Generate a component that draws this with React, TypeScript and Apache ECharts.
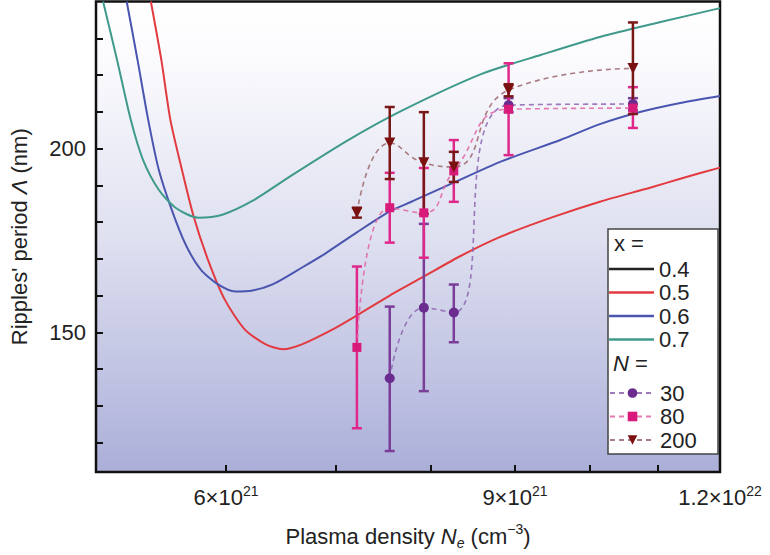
import React, { useEffect, useRef } from 'react';
import * as echarts from 'echarts';

// x in units of 10^21 cm^-3 (log axis), y in nm
const xLabelValues = [6, 9, 12];
const xLabelMantissa = ['6', '9', '1.2'];
const xLabelExponent = ['21', '21', '22'];
const xTickValues = [6, 7, 8, 9, 10, 11, 12];
const yLabelValues = [150, 200];
const yTickValues = [120, 130, 140, 150, 160, 170, 180, 190, 200, 210, 220, 230];

const curveNames = ['0.4', '0.5', '0.6', '0.7'];
const curveColors = ['#222222', '#e23a3f', '#4a55b0', '#3f9a8c'];
const curve04: number[][] = [];
const curve05 = [
  [5.4, 240], [5.48, 224.1], [5.55, 207.8], [5.64, 194.3], [5.73, 182.0], [5.85, 169.8],
  [5.99, 158.9], [6.16, 150.8], [6.34, 146.8], [6.5, 145.4], [6.68, 146.8], [6.97, 150.8],
  [7.21, 154.6], [7.55, 160.0], [7.92, 165.2], [8.35, 170.9], [8.83, 176.1], [9.47, 181.2],
  [10.15, 185.6], [10.89, 189.4], [11.35, 191.8], [12.0, 194.8],
];
const curve06 = [
  [5.22, 240], [5.3, 224.1], [5.38, 207.8], [5.46, 194.3], [5.56, 183.4], [5.67, 173.9],
  [5.79, 167.1], [5.93, 163.1], [6.08, 161.1], [6.23, 161.4], [6.41, 163.1], [6.68, 167.7],
  [6.9, 171.5], [7.21, 177.2], [7.55, 182.9], [7.79, 185.6], [8.24, 190.5], [8.83, 196.5],
  [9.6, 202.4], [10.15, 206.7], [10.74, 210.0], [11.35, 212.4], [12.0, 214.3],
];
const curve07 = [
  [5.05, 240], [5.15, 224.1], [5.25, 207.8], [5.34, 197.0], [5.46, 188.8], [5.59, 183.9],
  [5.77, 181.2], [5.97, 182.0], [6.23, 185.8], [6.59, 192.9], [7.11, 202.1], [7.68, 210.3],
  [8.59, 220.3], [9.34, 225.5], [10.15, 230.4], [11.04, 234.4], [12.0, 238.2],
];

const nNames = ['30', '80', '200'];
const n30X = [7.55, 7.92, 8.26, 8.92, 10.62];
const n30Y = [137.5, 156.7, 155.4, 211.8, 212.1];
const n30Lo = [117.7, 134.0, 147.3, 209.9, 210.4];
const n30Hi = [157.0, 179.5, 163.0, 213.7, 213.7];
const n80X = [7.21, 7.55, 7.92, 8.26, 8.92, 10.62];
const n80Y = [145.9, 183.9, 182.5, 193.9, 210.7, 211.0];
const n80Lo = [123.9, 174.4, 170.3, 185.5, 198.2, 205.6];
const n80Hi = [167.9, 193.4, 194.7, 202.3, 223.2, 216.7];
const n200X = [7.21, 7.55, 7.92, 8.26, 8.92, 10.62];
const n200Y = [182.5, 201.5, 196.1, 195.0, 215.9, 221.8];
const n200Lo = [181.2, 191.7, 182.2, 190.9, 214.2, 209.4];
const n200Hi = [183.9, 211.3, 209.9, 199.1, 217.5, 234.3];

const FONT = '"Liberation Sans", Arial, Helvetica, sans-serif';
const TXT = '#222222';

const zip = (xs: number[], ys: number[]) => xs.map((x, i) => [x, ys[i]]);

const errSeries = (name: string, xs: number[], lo: number[], hi: number[], color: string, z: number) => ({
  type: 'custom',
  name,
  z,
  silent: true,
  data: xs.map((x, i) => [x, lo[i], hi[i]]),
  encode: { x: 0, y: [1, 2] },
  renderItem: (params: any, api: any) => {
    const x = api.value(0);
    const a = api.coord([x, api.value(1)]);
    const b = api.coord([x, api.value(2)]);
    const w = 5;
    const st = { stroke: color, lineWidth: 2.5 };
    return {
      type: 'group',
      children: [
        { type: 'line', shape: { x1: a[0], y1: a[1], x2: b[0], y2: b[1] }, style: st },
        { type: 'line', shape: { x1: a[0] - w, y1: a[1], x2: a[0] + w, y2: a[1] }, style: st },
        { type: 'line', shape: { x1: b[0] - w, y1: b[1], x2: b[0] + w, y2: b[1] }, style: st },
      ],
    };
  },
});

const curveSeries = (name: string, data: number[][], color: string) => ({
  type: 'line',
  name,
  data,
  smooth: 0.25,
  symbol: 'none',
  z: 2,
  silent: true,
  lineStyle: { color, width: 2 },
  itemStyle: { color },
});

const nSeries = (name: string, data: number[][], color: string, lineColor: string, symbol: string, size: number) => ({
  type: 'line',
  name,
  data,
  smooth: 0.5,
  symbol,
  symbolSize: size,
  showSymbol: true,
  z: 5,
  silent: true,
  itemStyle: { color },
  lineStyle: { color: lineColor, width: 1.6, type: [5, 4] },
});

export default function App() {
  const ref = useRef<HTMLDivElement>(null);
  useEffect(() => {
    if (!ref.current) return;
    const chart = echarts.init(ref.current, null, { renderer: 'svg' });
    const labelStyle = { fontFamily: FONT, color: TXT };
    const option: any = {
      animation: false,
      textStyle: { fontFamily: FONT },
      grid: {
        left: 92, right: 50, top: 1.5, bottom: 82, show: true,
        borderColor: '#111', borderWidth: 2.5,
        backgroundColor: new echarts.graphic.LinearGradient(0, 0, 0, 1, [
          { offset: 0, color: '#ffffff' },
          { offset: 0.12, color: '#fbfbfe' },
          { offset: 0.5, color: '#dfe0f0' },
          { offset: 1, color: '#abafd9' },
        ]),
      },
      xAxis: {
        type: 'log', logBase: 10, min: 5, max: 12,
        axisLine: { show: false },
        splitLine: { show: false },
        axisTick: { inside: true, length: 7, customValues: xTickValues, lineStyle: { color: '#111', width: 2 } },
        axisLabel: {
          customValues: xLabelValues,
          margin: 12,
          ...labelStyle,
          formatter: (v: number) => {
            const i = xLabelValues.findIndex((u) => Math.abs(u - v) < 1e-6);
            if (i < 0) return '';
            return `{b|${xLabelMantissa[i]}×10}{s|${xLabelExponent[i]}}`;
          },
          rich: {
            b: { fontSize: 22, lineHeight: 26, fontFamily: FONT, color: TXT },
            s: { fontSize: 14, lineHeight: 14, verticalAlign: 'top', fontFamily: FONT, color: TXT },
          },
        },
        name: '{t|Plasma density }{i|N}{sub|e}{t| (cm}{sup|−3}{t|)}',
        nameLocation: 'middle',
        nameGap: 50,
        nameTextStyle: {
          rich: {
            t: { fontSize: 22, lineHeight: 28, fontFamily: FONT, color: TXT },
            i: { fontSize: 22, lineHeight: 28, fontStyle: 'italic', fontFamily: FONT, color: TXT },
            sub: { fontSize: 14, lineHeight: 14, verticalAlign: 'bottom', fontStyle: 'italic', fontFamily: FONT, color: TXT },
            sup: { fontSize: 14, lineHeight: 14, verticalAlign: 'top', fontFamily: FONT, color: TXT },
          },
        },
      },
      yAxis: {
        type: 'value', min: 112, max: 240,
        axisLine: { show: false },
        splitLine: { show: false },
        axisTick: { inside: true, length: 7, customValues: yTickValues, lineStyle: { color: '#111', width: 2 } },
        axisLabel: { customValues: yLabelValues, fontSize: 22, margin: 10, ...labelStyle },
        name: "{t|Ripples' period }{i|Λ}{t| (nm)}",
        nameLocation: 'middle',
        nameGap: 64,
        nameTextStyle: {
          rich: {
            t: { fontSize: 22, lineHeight: 26, fontFamily: FONT, color: TXT },
            i: { fontSize: 22, lineHeight: 26, fontStyle: 'italic', fontFamily: FONT, color: TXT },
          },
        },
      },
      legend: [
        {
          data: curveNames.map((n) => ({ name: n, icon: 'rect' })),
          orient: 'vertical', left: 609, top: 258, padding: 0,
          itemWidth: 45, itemHeight: 2.5, itemGap: 1.5, selectedMode: false, z: 20,
          textStyle: { fontSize: 22, lineHeight: 22, color: TXT, fontFamily: FONT },
        },
        {
          data: nNames, orient: 'vertical', left: 609, top: 382, padding: 0,
          itemWidth: 45, itemHeight: 12, itemGap: 1.5, selectedMode: false, z: 20,
          textStyle: { fontSize: 22, lineHeight: 22, color: TXT, fontFamily: FONT },
        },
      ],
      graphic: [
        {
          type: 'rect', z: 10, silent: true,
          shape: { x: 608, y: 229, width: 110, height: 225 },
          style: { fill: '#ffffff', stroke: '#444', lineWidth: 1.5 },
        },
        {
          type: 'text', z: 21, x: 614, y: 243, silent: true,
          style: { text: 'x =', fontSize: 22, fill: TXT, fontFamily: FONT, verticalAlign: 'middle' },
        },
        {
          type: 'text', z: 21, x: 613, y: 363, silent: true,
          style: {
            text: '{i|N}{t| =}', verticalAlign: 'middle',
            rich: {
              i: { fontSize: 22, fontStyle: 'italic', fill: TXT, fontFamily: FONT },
              t: { fontSize: 22, fill: TXT, fontFamily: FONT },
            },
          },
        },
      ],
      series: [
        curveSeries(curveNames[0], curve04, curveColors[0]),
        curveSeries(curveNames[1], curve05, curveColors[1]),
        curveSeries(curveNames[2], curve06, curveColors[2]),
        curveSeries(curveNames[3], curve07, curveColors[3]),
        errSeries('err30', n30X, n30Lo, n30Hi, '#7a3d98', 3),
        errSeries('err80', n80X, n80Lo, n80Hi, '#e0288a', 3),
        errSeries('err200', n200X, n200Lo, n200Hi, '#7a1818', 3),
        nSeries(nNames[0], zip(n30X, n30Y), '#6a2c8e', 'rgba(140,100,175,0.85)', 'circle', 10),
        nSeries(nNames[1], zip(n80X, n80Y), '#d81b7a', 'rgba(225,100,165,0.85)', 'rect', 9),
        nSeries(nNames[2], zip(n200X, n200Y), '#7b1010', 'rgba(160,110,115,0.9)', 'path://M0,0L10,0L5,9Z', 11),
      ],
    };
    chart.setOption(option);
    return () => chart.dispose();
  }, []);
  return (
    <div
      ref={ref}
      style={{ position: 'fixed', left: 0, top: 0, width: 770, height: 555, background: '#fff' }}
    />
  );
}
